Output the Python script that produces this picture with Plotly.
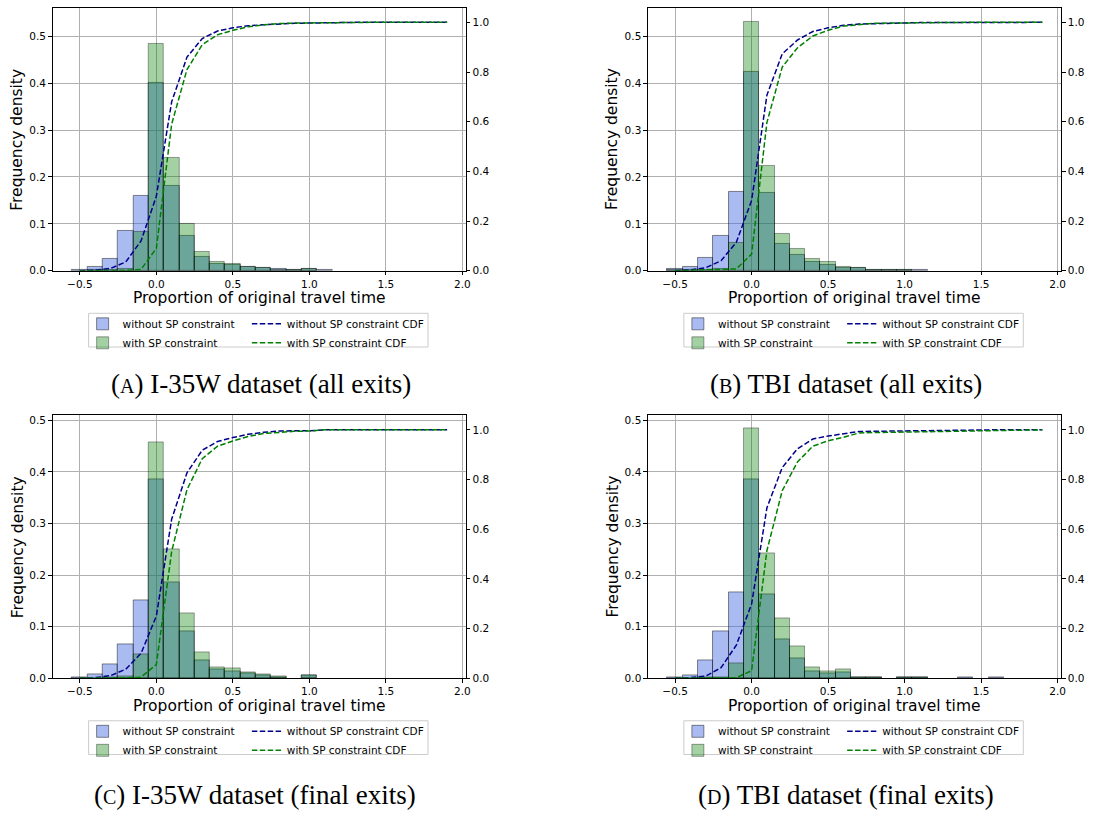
import plotly.graph_objects as go

# Bin centres of the histograms (width 0.1) and x positions of the CDF curves
bin_centers = [-0.5, -0.4, -0.3, -0.2, -0.1, 0.0, 0.1, 0.2, 0.3, 0.4, 0.5, 0.6,
               0.7, 0.8, 0.9, 1.0, 1.1, 1.2, 1.3, 1.4, 1.5, 1.6, 1.7, 1.8, 1.9]
cdf_x = bin_centers

# (A) I-35W, all exits
a_without = [0.002, 0.007, 0.026, 0.085, 0.160, 0.400, 0.180, 0.075, 0.030, 0.014, 0.012, 0.008,
             0.005, 0.003, 0.001, 0.004, 0.001, 0, 0, 0, 0, 0, 0, 0, 0]
a_with = [0, 0.001, 0.002, 0.004, 0.083, 0.484, 0.240, 0.099, 0.039, 0.018, 0.015, 0.009,
          0.005, 0.002, 0.001, 0.004, 0, 0, 0, 0, 0, 0, 0, 0, 0]
a_cdf_without = [0, 0.002, 0.009, 0.035, 0.12, 0.30, 0.68, 0.86, 0.935, 0.965, 0.978, 0.986,
                 0.990, 0.994, 0.996, 0.997, 0.999, 1.0, 1.0, 1.0, 1.0, 1.0, 1.0, 1.0, 1.0]
a_cdf_with = [0, 0, 0, 0.001, 0.005, 0.09, 0.59, 0.81, 0.91, 0.95, 0.968, 0.982,
              0.990, 0.995, 0.997, 0.998, 0.999, 1.0, 1.0, 1.0, 1.0, 1.0, 1.0, 1.0, 1.0]

# (B) TBI, all exits
b_without = [0.003, 0.009, 0.028, 0.075, 0.169, 0.424, 0.166, 0.057, 0.034, 0.019, 0.013, 0.006,
             0.005, 0.002, 0.001, 0.002, 0.001, 0, 0, 0, 0, 0, 0, 0, 0]
b_with = [0.001, 0.001, 0.002, 0.003, 0.060, 0.530, 0.224, 0.079, 0.047, 0.026, 0.019, 0.007,
          0.005, 0.002, 0.001, 0.002, 0, 0, 0, 0, 0, 0, 0, 0, 0]
b_cdf_without = [0, 0.003, 0.012, 0.04, 0.114, 0.283, 0.707, 0.873, 0.929, 0.963, 0.978, 0.988,
                 0.993, 0.995, 0.997, 0.998, 0.999, 0.999, 0.999, 1.0, 1.0, 1.0, 1.0, 1.0, 1.0]
b_cdf_with = [0, 0.001, 0.002, 0.004, 0.007, 0.067, 0.597, 0.82, 0.898, 0.945, 0.968, 0.985,
              0.992, 0.996, 0.997, 0.998, 0.999, 1.0, 1.0, 1.0, 1.0, 1.0, 1.0, 1.0, 1.0]

# (C) I-35W, final exits
c_without = [0.002, 0.008, 0.026, 0.066, 0.150, 0.386, 0.186, 0.091, 0.035, 0.016, 0.0135, 0.0096,
             0.005, 0.002, 0, 0.0045, 0, 0, 0, 0, 0, 0, 0, 0, 0]
c_with = [0, 0, 0.001, 0.003, 0.047, 0.457, 0.249, 0.125, 0.050, 0.021, 0.018, 0.0116,
          0.0064, 0.0026, 0, 0.005, 0, 0, 0, 0, 0, 0, 0, 0, 0]
c_cdf_without = [0, 0.002, 0.01, 0.036, 0.10, 0.25, 0.64, 0.827, 0.918, 0.953, 0.969, 0.982,
                 0.990, 0.995, 0.996, 0.996, 1.0, 1.0, 1.0, 1.0, 1.0, 1.0, 1.0, 1.0, 1.0]
c_cdf_with = [0, 0, 0, 0.001, 0.004, 0.055, 0.51, 0.759, 0.884, 0.934, 0.955, 0.973,
              0.985, 0.991, 0.994, 0.995, 1.0, 1.0, 1.0, 1.0, 1.0, 1.0, 1.0, 1.0, 1.0]

# (D) TBI, final exits
d_without = [0.002, 0.006, 0.035, 0.091, 0.166, 0.386, 0.162, 0.076, 0.039, 0.014, 0.0096, 0.011,
             0.002, 0.001, 0, 0.002, 0.002, 0, 0, 0.001, 0, 0.001, 0, 0, 0]
d_with = [0, 0, 0.001, 0.001, 0.028, 0.485, 0.241, 0.116, 0.062, 0.021, 0.014, 0.017,
          0.002, 0.001, 0, 0.002, 0.001, 0, 0, 0, 0, 0, 0, 0, 0]
d_cdf_without = [0, 0.002, 0.008, 0.042, 0.133, 0.299, 0.686, 0.848, 0.924, 0.963, 0.975, 0.984,
                 0.993, 0.994, 0.995, 0.996, 0.997, 0.998, 0.999, 0.999, 0.999, 1.0, 1.0, 1.0, 1.0]
d_cdf_with = [0, 0, 0, 0.001, 0.002, 0.03, 0.514, 0.755, 0.871, 0.934, 0.956, 0.970,
              0.987, 0.989, 0.990, 0.991, 0.993, 0.995, 0.996, 0.997, 0.998, 0.999, 1.0, 1.0, 1.0]

captions = ["(<span style='font-size:20px'>A</span>) I-35W dataset (all exits)",
            "(<span style='font-size:20px'>B</span>) TBI dataset (all exits)",
            "(<span style='font-size:20px'>C</span>) I-35W dataset (final exits)",
            "(<span style='font-size:20px'>D</span>) TBI dataset (final exits)"]

x_ticks = [-0.5, 0.0, 0.5, 1.0, 1.5, 2.0]
y_ticks = [0.0, 0.1, 0.2, 0.3, 0.4, 0.5]
cdf_ticks = [0.0, 0.2, 0.4, 0.6, 0.8, 1.0]

# Page geometry (pixels)
W, H = 1094, 817
SANS = "DejaVu Sans"
SERIF = "Times New Roman, Liberation Serif, Times, serif"


def fx(px):
    return px / W


def fy(py):
    return 1 - py / H


def nonzero(values):
    # empty bins are not drawn at all
    return [v if v > 0 else None for v in values]


# left, right, top, bottom of each plot area + left-axis max + caption centre
panels = [
    dict(l=53, r=468, t=7, b=272, ymax=0.5608, cap=(262, 386),
         data=(a_without, a_with, a_cdf_without, a_cdf_with)),
    dict(l=651, r=1066, t=7, b=272, ymax=0.5608, cap=(850, 386),
         data=(b_without, b_with, b_cdf_without, b_cdf_with)),
    dict(l=53, r=468, t=418, b=683, ymax=0.5096, cap=(256, 801),
         data=(c_without, c_with, c_cdf_without, c_cdf_with)),
    dict(l=651, r=1066, t=418, b=683, ymax=0.5096, cap=(850, 801),
         data=(d_without, d_with, d_cdf_without, d_cdf_with)),
]

fig = go.Figure()
layout = dict(annotations=[], shapes=[])

for i, p in enumerate(panels):
    n = i + 1
    xa = "x" if n == 1 else f"x{n}"
    ya = "y" if n == 1 else f"y{n}"
    ya2 = f"y{n + 4}"
    leg1 = "legend" if n == 1 else f"legend{2 * n - 1}"
    leg2 = f"legend{2 * n}"
    without, with_sp, cdf_without, cdf_with = p["data"]

    fig.add_trace(go.Bar(
        x=bin_centers, y=nonzero(without), width=0.1, name="without SP constraint",
        marker=dict(color="rgba(65,105,225,0.45)", line=dict(color="rgba(0,0,0,0.45)", width=1)),
        xaxis=xa, yaxis=ya, legend=leg1,
    ))
    fig.add_trace(go.Bar(
        x=bin_centers, y=nonzero(with_sp), width=0.1, name="with SP constraint",
        marker=dict(color="rgba(0,128,0,0.36)", line=dict(color="rgba(0,0,0,0.36)", width=1)),
        xaxis=xa, yaxis=ya, legend=leg1,
    ))
    fig.add_trace(go.Scatter(
        x=cdf_x, y=cdf_without, mode="lines", name="without SP constraint CDF",
        line=dict(color="#00008b", width=1.5, dash="5.5px,2.4px"),
        xaxis=xa, yaxis=ya2, legend=leg2,
    ))
    fig.add_trace(go.Scatter(
        x=cdf_x, y=cdf_with, mode="lines", name="with SP constraint CDF",
        line=dict(color="#008000", width=1.5, dash="5.5px,2.4px"),
        xaxis=xa, yaxis=ya2, legend=leg2,
    ))

    axis_common = dict(
        showline=True, linecolor="black", linewidth=1.2, ticks="outside", ticklen=3.5,
        tickwidth=1, tickcolor="black", tickfont=dict(family=SANS, size=10.5, color="black"),
        zeroline=False,
    )
    layout["xaxis" if n == 1 else f"xaxis{n}"] = dict(
        axis_common, domain=[fx(p["l"]), fx(p["r"])], anchor=ya, range=[-0.677, 2.0225],
        tickvals=x_ticks, tickformat=".1f", mirror=True,
        showgrid=True, gridcolor="#b0b0b0", gridwidth=0.8,
    )
    layout["yaxis" if n == 1 else f"yaxis{n}"] = dict(
        axis_common, domain=[fy(p["b"]), fy(p["t"])], anchor=xa, range=[0, p["ymax"]],
        tickvals=y_ticks, tickformat=".1f",
        showgrid=True, gridcolor="#b0b0b0", gridwidth=0.8,
    )
    layout[f"yaxis{n + 4}"] = dict(
        axis_common, overlaying=ya, anchor=xa, side="right", range=[0, 1.058],
        tickvals=cdf_ticks, tickformat=".1f", showgrid=False,
    )

    # axis titles
    cx = (p["l"] + p["r"]) / 2
    layout["annotations"].append(dict(
        text="Proportion of original travel time", x=fx(cx), y=fy(p["b"] + 28),
        xref="paper", yref="paper", xanchor="center", yanchor="middle", showarrow=False,
        font=dict(family=SANS, size=15.5, color="black"),
    ))
    layout["annotations"].append(dict(
        text="Frequency density", x=fx(p["l"] - 35.5), y=fy((p["t"] + p["b"]) / 2),
        xref="paper", yref="paper", xanchor="center", yanchor="middle", showarrow=False,
        textangle=-90, font=dict(family=SANS, size=15.5, color="black"),
    ))
    # caption
    cap_x, cap_y = p["cap"]
    layout["annotations"].append(dict(
        text=captions[i], x=fx(cap_x), y=fy(cap_y),
        xref="paper", yref="paper", xanchor="center", yanchor="middle", showarrow=False,
        font=dict(family=SERIF, size=27, color="black"),
    ))

    # legend: two columns + a shared frame
    top = p["b"] + 39
    for key, left in ((leg1, p["l"] + 30), (leg2, p["l"] + 195)):
        layout[key] = dict(
            x=fx(left), y=fy(top), xanchor="left", yanchor="top", orientation="v",
            bgcolor="rgba(0,0,0,0)", borderwidth=0, itemwidth=30, tracegroupgap=0,
            font=dict(family=SANS, size=10.5, color="black"),
        )
    layout["shapes"].append(dict(
        type="rect", xref="paper", yref="paper",
        x0=fx(p["l"] + 36), x1=fx(p["l"] + 377), y0=fy(p["b"] + 77), y1=fy(p["b"] + 43),
        line=dict(color="#cccccc", width=1), fillcolor="rgba(0,0,0,0)", layer="below",
    ))

fig.update_layout(
    width=W, height=H, margin=dict(l=0, r=0, t=0, b=0),
    barmode="overlay", bargap=0,
    paper_bgcolor="white", plot_bgcolor="white",
    **layout,
)

fig.write_html("out.html", config={"displayModeBar": False},
               post_script="document.body.style.margin='0px';")
